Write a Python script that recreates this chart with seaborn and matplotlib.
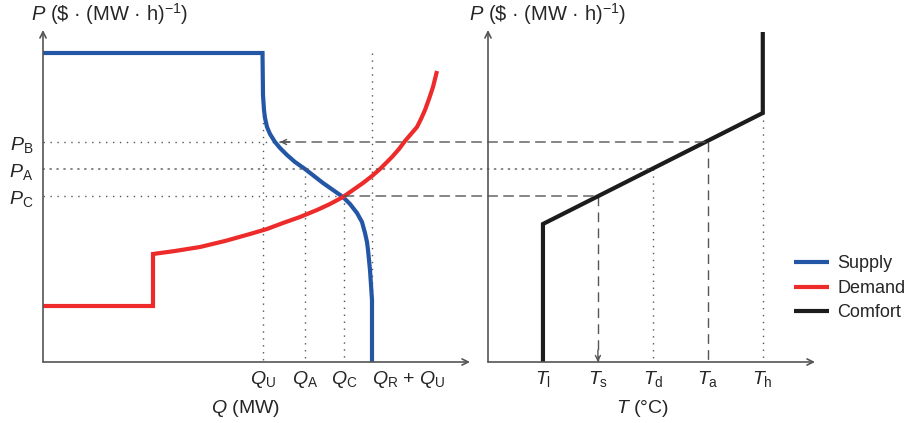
import numpy as np
import pandas as pd
import matplotlib.pyplot as plt
import seaborn as sns
from matplotlib.patches import ConnectionPatch

# price levels
P_max = 30.9
P_B = 22.0
P_A = 19.3
P_C = 16.6

# quantities (MW)
Q_U = 21.95
Q_A = 26.2
Q_C = 30.1
Q_RU = 32.9
Q_B = 23.7   # supply quantity at P_B

# temperatures
T_l, T_s, T_d, T_a, T_h = 1, 2, 3, 4, 5
P_kink_hi = 24.9

supply_q = [0, 21.95, 22.0, 22.1, 22.2, 22.4, 22.7, 23.2, 23.7, 24.4, 25.2, 26.2,
            27.1, 28.0, 29.0, 30.0, 30.7, 31.4, 31.9, 32.2, 32.4, 32.5, 32.6,
            32.7, 32.8, 32.9, 32.9]
supply_p = [30.9, 30.9, 26.7, 25.2, 24.4, 23.5, 22.8, 22.0, 21.4, 20.7, 20.0, 19.3,
            18.6, 17.9, 17.2, 16.5, 15.8, 14.9, 14.0, 12.9, 12.0, 11.2, 10.2,
            9.2, 7.7, 6.2, 0]

demand_q = [0, 11.0, 11.0, 13.2, 15.7, 18.2, 20.7, 22.4, 24.0, 25.7, 27.4, 28.7,
            30.0, 31.0, 32.0, 32.9, 33.7, 34.3, 34.9, 35.6, 36.2, 36.8, 37.4,
            37.8, 38.2, 38.6, 39.0, 39.4]
demand_p = [5.6, 5.6, 10.8, 11.1, 11.5, 12.1, 12.8, 13.3, 13.9, 14.5, 15.2, 15.8,
            16.5, 17.2, 17.9, 18.6, 19.3, 19.9, 20.5, 21.3, 22.1, 22.8, 23.5,
            24.3, 25.2, 26.3, 27.5, 29.1]

comfort_t = [1, 1, 5, 5]
comfort_p = [0, 13.8, 24.9, 33.0]

q_ticks = [Q_U, Q_A, Q_C, Q_RU]
q_labels = [r'$Q_{\mathrm{U}}$', r'$Q_{\mathrm{A}}$', r'$Q_{\mathrm{C}}$',
            r'$Q_{\mathrm{R}}$ + $Q_{\mathrm{U}}$']
p_ticks = [P_C, P_A, P_B]
p_labels = [r'$P_{\mathrm{C}}$', r'$P_{\mathrm{A}}$', r'$P_{\mathrm{B}}$']
t_ticks = [T_l, T_s, T_d, T_a, T_h]
t_labels = [r'$T_{\mathrm{l}}$', r'$T_{\mathrm{s}}$', r'$T_{\mathrm{d}}$',
            r'$T_{\mathrm{a}}$', r'$T_{\mathrm{h}}$']

supply = pd.DataFrame({'Q': supply_q, 'P': supply_p})
demand = pd.DataFrame({'Q': demand_q, 'P': demand_p})
comfort = pd.DataFrame({'T': comfort_t, 'P': comfort_p})

sns.set_style('white')
plt.rcParams['font.family'] = ['Liberation Sans', 'DejaVu Sans']
plt.rcParams['mathtext.fontset'] = 'custom'
plt.rcParams['mathtext.rm'] = 'Liberation Sans'
plt.rcParams['mathtext.it'] = 'Liberation Sans:italic'
plt.rcParams['mathtext.default'] = 'it'

BLUE = '#2456a6'
RED = '#ee2b2b'
BLACK = '#1c1c1c'
GREY = '#555555'
DOT = (0, (1, 4))
DASH = (0, (7, 4.5))
FS = 14

fig = plt.figure(figsize=(9.21, 4.23), dpi=100)
ax1 = fig.add_axes([43 / 921, 61 / 423, 427 / 921, 332 / 423])
ax2 = fig.add_axes([488 / 921, 61 / 423, 327 / 921, 332 / 423])

line_kw = dict(estimator=None, sort=False, lw=3,
               solid_joinstyle='miter', solid_capstyle='butt', zorder=3)
sns.lineplot(data=supply, x='Q', y='P', color=BLUE, label='Supply', ax=ax1, **line_kw)
sns.lineplot(data=demand, x='Q', y='P', color=RED, label='Demand', ax=ax1, **line_kw)
sns.lineplot(data=comfort, x='T', y='P', color=BLACK, label='Comfort', ax=ax2, **line_kw)

for ax in (ax1, ax2):
    if ax.get_legend() is not None:
        ax.get_legend().remove()
    for s in ax.spines.values():
        s.set_visible(False)
    ax.set_ylim(0, 33.2)
    ax.tick_params(length=0, labelsize=FS)
    ax.annotate('', xy=(1, 0), xytext=(0, 0), xycoords='axes fraction',
                arrowprops=dict(arrowstyle='->', color=GREY, lw=1.2,
                                shrinkA=0, shrinkB=0, mutation_scale=11))
    ax.annotate('', xy=(0, 1), xytext=(0, 0), xycoords='axes fraction',
                arrowprops=dict(arrowstyle='->', color=GREY, lw=1.2,
                                shrinkA=0, shrinkB=0, mutation_scale=11))

ax1.set_xlim(0, 42.7)
ax2.set_xlim(0, 5.95)

ref = dict(color=GREY, lw=1, zorder=1)
# left panel guides
ax1.plot([Q_U, Q_U], [P_max, 0], ls=DOT, **ref)
ax1.plot([Q_RU, Q_RU], [P_max, 0], ls=DOT, **ref)
ax1.plot([Q_A, Q_A], [P_A, 0], ls=DOT, **ref)
ax1.plot([Q_C, Q_C], [P_C, 0], ls=DOT, **ref)
ax1.plot([0, Q_B], [P_B, P_B], ls=DOT, **ref)
ax1.plot([0, Q_C], [P_C, P_C], ls=DOT, **ref)
ax1.annotate('', xy=(Q_B, P_B), xytext=(Q_B + 1.0, P_B),
             arrowprops=dict(arrowstyle='->', color=GREY, lw=1,
                             shrinkA=0, shrinkB=0, mutation_scale=9))

# right panel guides
ax2.plot([T_d, T_d], [P_A, 0], ls=DOT, **ref)
ax2.plot([T_h, T_h], [P_kink_hi, 0], ls=DOT, **ref)
ax2.plot([T_a, T_a], [P_B, 0], ls=DASH, **ref)
ax2.plot([T_s, T_s], [P_C, 0], ls=DASH, **ref)
ax2.annotate('', xy=(T_s, 0), xytext=(T_s, 1.2),
             arrowprops=dict(arrowstyle='->', color=GREY, lw=1,
                             shrinkA=0, shrinkB=0, mutation_scale=9))

# guides crossing panels
for (xa, ya), (xb, yb), ls in [((0, P_A), (T_d, P_A), DOT),
                               ((Q_B, P_B), (T_a, P_B), DASH),
                               ((Q_C, P_C), (T_s, P_C), DASH)]:
    cp = ConnectionPatch(xyA=(xa, ya), coordsA=ax1.transData,
                         xyB=(xb, yb), coordsB=ax2.transData,
                         color=GREY, lw=1, linestyle=ls, zorder=1)
    fig.add_artist(cp)

ax1.set_xticks(q_ticks, q_labels)
ax1.set_yticks(p_ticks, p_labels)
ax2.set_xticks(t_ticks, t_labels)
ax2.set_yticks([])
ax1.tick_params(axis='x', pad=5)
ax1.tick_params(axis='y', pad=7)
ax2.tick_params(axis='x', pad=5)
last = ax1.get_xticklabels()[-1]
last.set_horizontalalignment('left')
last.set_x(Q_RU - 1.0)

ax1.set_xlabel(r'$Q$ (MW)', fontsize=FS)
ax1.xaxis.set_label_coords(0.475, -0.108)
ax2.set_xlabel(r'$T$ (°C)', fontsize=FS)
ax2.xaxis.set_label_coords(0.471, -0.108)
ax1.set_ylabel('')
ax2.set_ylabel('')

ytitle = r'$P$ (\$ · (MW · h)$^{\mathrm{-1}}$)'
ax1.annotate(ytitle, xy=(0, 1), xycoords='axes fraction', xytext=(-9, 2),
             textcoords='offset points', ha='left', va='bottom', fontsize=14.5)
ax2.annotate(ytitle, xy=(0, 1), xycoords='axes fraction', xytext=(-14, 2),
             textcoords='offset points', ha='left', va='bottom', fontsize=14.5)

h1, l1 = ax1.get_legend_handles_labels()
h2, l2 = ax2.get_legend_handles_labels()
fig.legend(h1 + h2, l1 + l2, loc='upper left', bbox_to_anchor=(778 / 921, 1 - 239 / 423),
           frameon=False, fontsize=13, handlelength=1.9, handletextpad=0.5,
           labelspacing=0.42)

fig.savefig('out.png', dpi=100)
